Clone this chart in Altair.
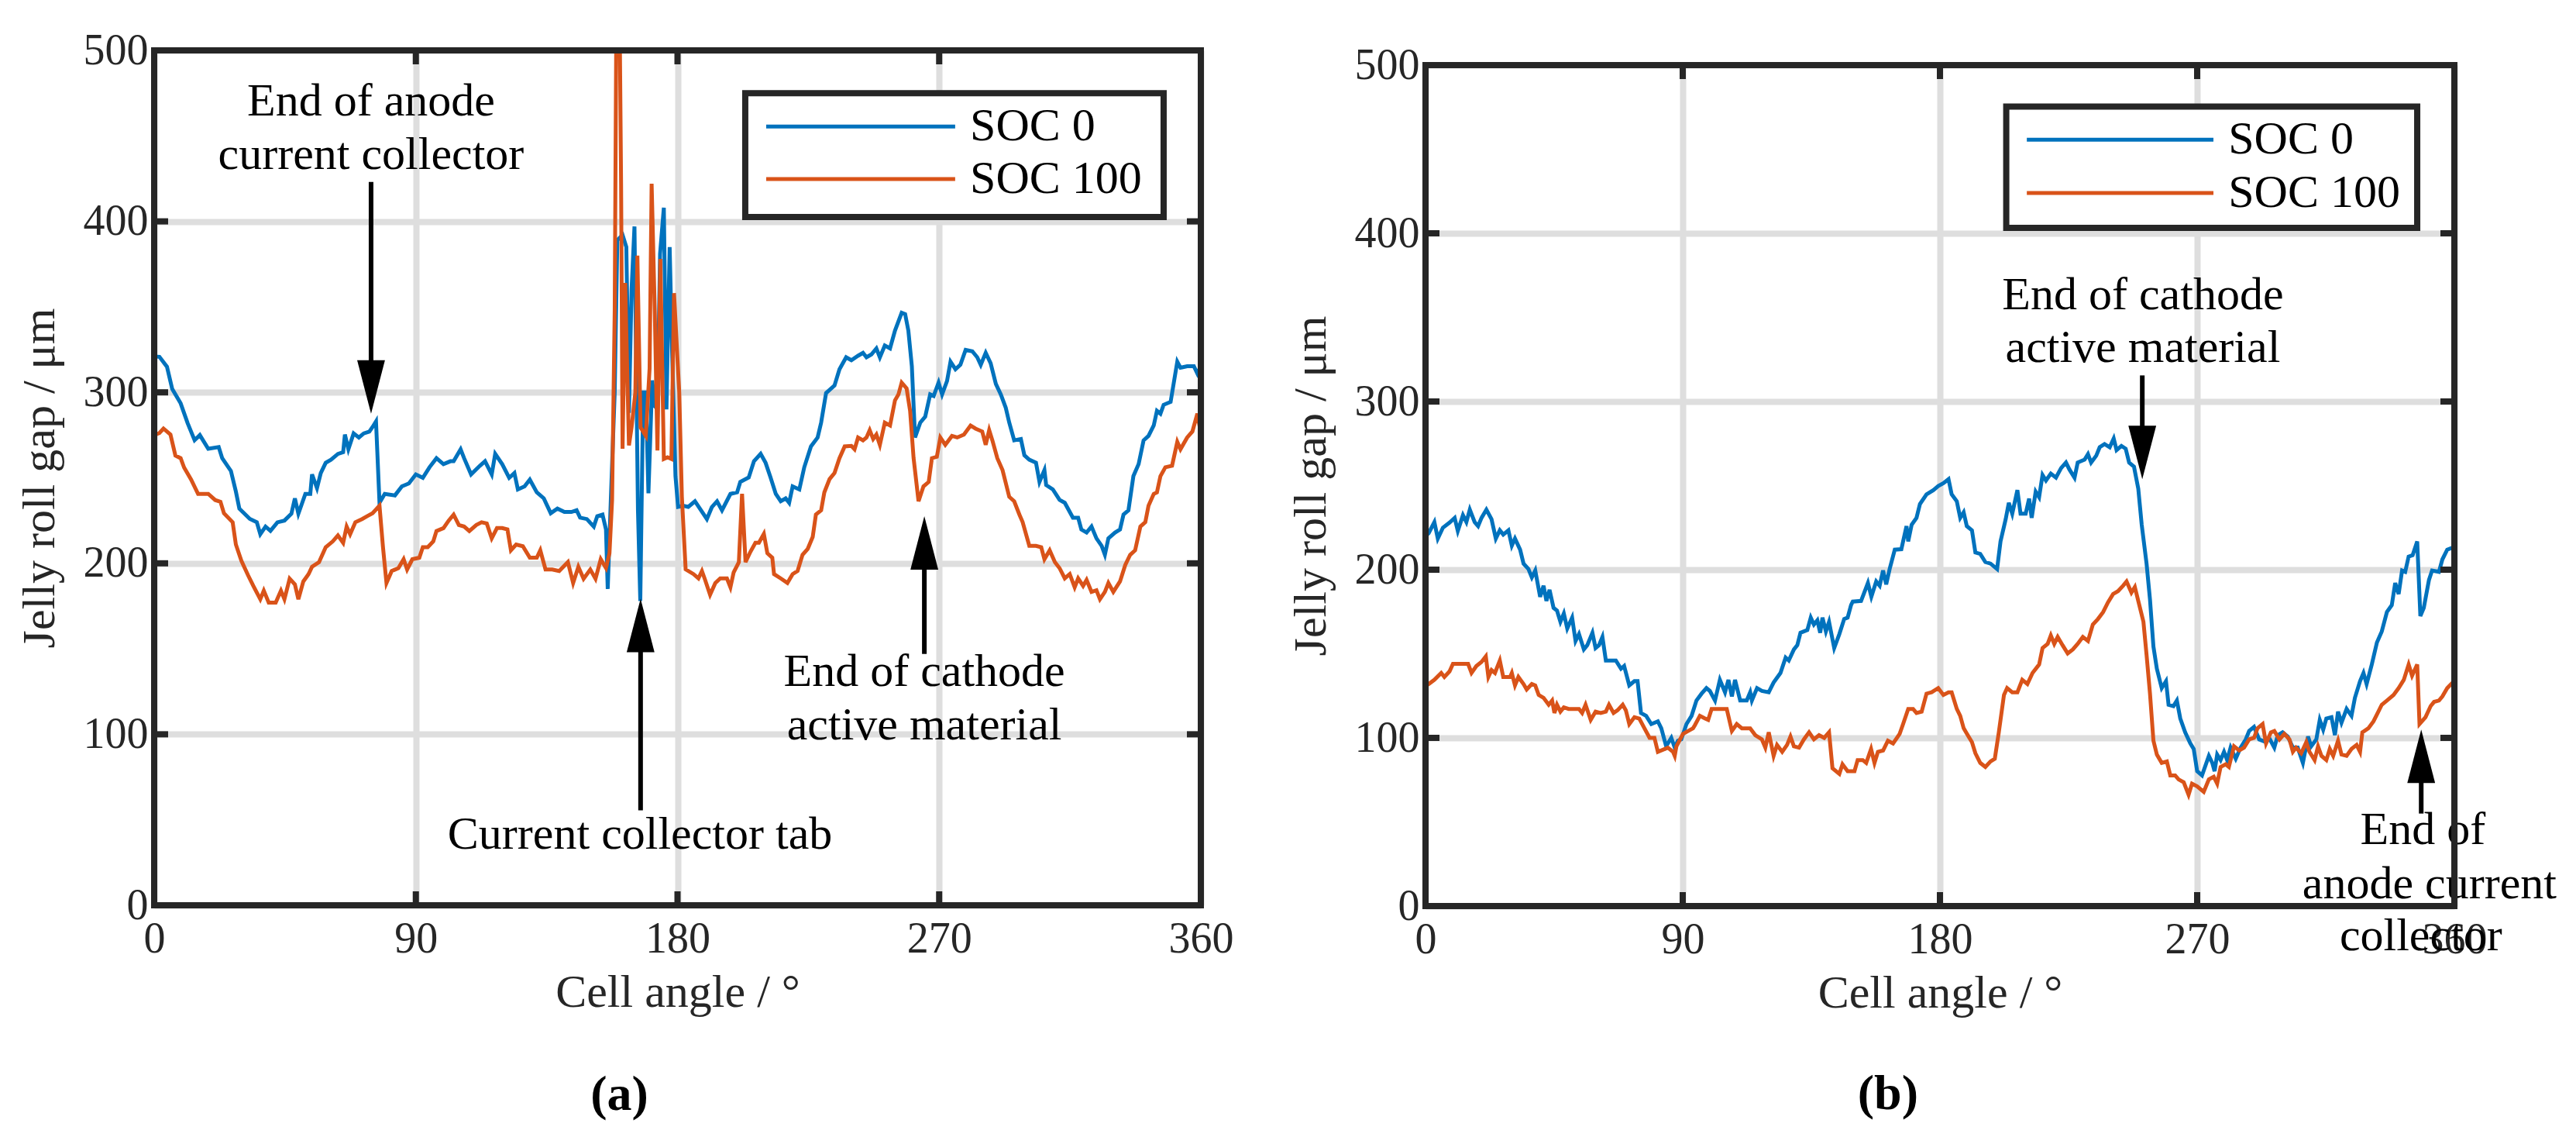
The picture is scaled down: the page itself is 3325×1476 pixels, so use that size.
import pandas as pd
import altair as alt

# (angle in degrees, jelly roll gap in um)
a_soc0 = [
    (0, 321), (1.8, 320.8), (4.4, 315), (6.2, 302), (9.1, 293.6), (11.5, 282), (13.9, 272),
    (15.7, 275), (18.6, 267), (22.2, 268), (23.4, 261.5), (26.4, 254), (28.1, 242), (29.3, 232),
    (32.9, 226), (35.3, 224), (36.5, 217), (38.3, 221.5), (40, 219), (42.4, 224), (44.8, 225),
    (47.2, 229), (48.4, 238), (49.6, 229), (52, 240.6), (53.7, 240.6), (54.3, 252), (56, 244),
    (57.3, 252.8), (59, 258.8), (60.8, 260.6), (63.2, 264), (65, 265), (65.6, 275.3), (66.8, 266.7),
    (68.6, 276), (70.4, 273.6), (72.1, 276), (74, 277), (75.1, 279.7), (76.3, 283), (77.5, 235.4),
    (79.3, 240.6), (82.8, 239.7), (85.2, 245), (87.6, 246.7), (90, 252), (92.4, 250), (94.7, 256.2),
    (97.1, 261.5), (99.5, 258), (101.9, 259.7), (103, 259.7), (105.4, 266.7), (106.6, 261.5),
    (109, 252), (112, 257), (113.8, 259.7), (116.1, 252), (117.3, 264), (119.7, 258), (122.1, 250),
    (123.9, 252.8), (125.1, 243.2), (127.4, 245), (129.2, 249), (131.6, 241.5), (134, 238),
    (136.4, 229.3), (138.7, 232), (141.1, 230), (143.5, 230), (145.3, 231), (146.5, 226.7),
    (148.8, 225.9), (151.2, 221.5), (152.4, 227.6), (154.2, 228.5), (155.4, 219.8), (156, 185),
    (157.1, 239), (158.4, 300), (159.3, 389), (161.1, 392), (162.4, 385), (163.3, 288), (164.2, 360),
    (165.2, 397), (166.4, 231), (167.2, 178), (168.2, 300), (169.1, 300), (170, 241), (171.3, 307),
    (172.2, 292), (173.1, 290), (174, 381), (175.3, 408), (176.2, 290), (177.3, 385), (178.2, 320),
    (179.3, 251), (180.2, 233), (182, 233.7), (183.7, 233), (186, 236.3), (190.1, 225.9),
    (191.8, 232.8), (193.6, 236.3), (195.3, 231), (198.2, 240.6), (200.5, 241.5), (201.6, 247.6),
    (204.5, 250.2), (206.3, 259.7), (208.6, 264), (210.3, 258.8), (212, 250.2), (213.8, 240.6),
    (215.5, 236.3), (217.2, 238), (218.4, 235.4), (219.6, 245), (221.9, 243.2), (223.6, 256.2),
    (225.9, 268.4), (228.2, 273.6), (229.4, 282.3), (231.1, 299.6), (234, 304), (235.7, 313.5),
    (238, 320.5), (239.8, 318.8), (242.1, 321.4), (243.8, 323.1), (245, 320.5), (246.7, 322.2),
    (248.4, 325.7), (249.6, 320.5), (251.3, 327.4), (253.1, 325.7), (254.8, 336.1), (257.1, 346.5),
    (258.3, 345.7), (259.4, 336.1), (260.6, 315.3), (261.7, 273.6), (263.5, 282.3), (265.2, 285.8),
    (266.9, 298.8), (268.1, 297.9), (269.8, 305.7), (271, 298.8), (272.7, 306.6), (273.9, 317.9),
    (275.6, 313.5), (277.3, 316.1), (279.1, 324.8), (281.4, 324), (283.1, 320.5), (284.3, 316.1),
    (286, 323.1), (287.7, 317), (289.5, 304.9), (291.2, 298.8), (292.9, 291), (294.1, 282.3),
    (295.8, 271.9), (298.1, 272.7), (299.3, 263.2), (301, 260.6), (303.3, 258.8), (304.5, 247.6),
    (306.2, 254.5), (306.8, 245.8), (309.1, 243.2), (311.4, 237.1), (313.2, 235.4), (316, 226.7),
    (317.8, 226.7), (318.9, 219.8), (320.7, 218), (322.4, 221.5), (324.1, 214.6), (325.9, 210.2),
    (327, 205), (328.2, 214.6), (330.5, 218), (332.2, 219.8), (333.4, 228.5), (335.1, 231),
    (336.8, 251), (338.6, 258), (340.3, 271.9), (342, 274.5), (343.8, 280.6), (344.9, 289.2),
    (346.1, 287.5), (347.2, 292.7), (349.6, 294.4), (351.9, 317.9), (353, 314.4), (355.3, 315.3),
    (357.6, 315.3), (358.8, 311), (360, 315.3),
]
a_soc100 = [
    (0, 275), (1.8, 276.2), (3.2, 278.8), (5.6, 275.3), (7.3, 263), (9.1, 261.5), (10.3, 256),
    (12.7, 249), (15.1, 240.6), (18.6, 240.6), (21, 237), (22.8, 236), (24, 229.3), (27, 224),
    (28.1, 211), (30, 201.5), (32.3, 193), (34.1, 186.8), (36.5, 179), (37.7, 184), (39.4, 177),
    (41.8, 177), (43.6, 184), (44.8, 179), (46.6, 191), (48.4, 187.7), (49.6, 179), (51.3, 189.4),
    (53.1, 193.7), (54.3, 198), (56.7, 200.7), (59, 209.4), (61.4, 212.8), (63.2, 216.3), (65, 212),
    (66.2, 221.5), (67.4, 217), (69.2, 224), (71.5, 225.9), (73.3, 227.6), (75.1, 229.3),
    (77.5, 233.7), (78.7, 209.4), (79.9, 188.5), (81.7, 195.5), (84, 197.2), (85.8, 202.4),
    (87, 196.4), (88.8, 202.4), (91.2, 203.3), (92.4, 209.4), (94.1, 209.4), (96, 212.8),
    (97.1, 218.9), (99.5, 220.6), (101.3, 225), (103, 228.5), (104.8, 222.4), (106.6, 221.5),
    (108.4, 218.9), (110.8, 222.4), (112.6, 224), (114.4, 223.3), (116.1, 214.6), (117.9, 220.6),
    (119.7, 220.6), (121.5, 219.8), (122.7, 207.6), (124.5, 211), (126.8, 210), (129.2, 203.3),
    (131.6, 203.3), (132.8, 207.6), (134.6, 196.4), (136.9, 196.4), (139.3, 195.5), (142.3, 200.7),
    (144.1, 188.5), (145.9, 198), (147.7, 191), (150, 196.4), (151.8, 191), (153.6, 202.4),
    (155.4, 197.2), (156.6, 205.9), (157.5, 237), (158.4, 348), (158.9, 500), (160.2, 500),
    (160.6, 421), (161.1, 267), (162, 364), (163.3, 269), (164.2, 279.5), (165.5, 300), (166.2, 380),
    (167.3, 279.5), (169.1, 274.5), (170.4, 314), (171.1, 422), (172.2, 346), (173.1, 266),
    (174.1, 378), (175.3, 261), (176.6, 262), (177.9, 261), (178.8, 358), (180.6, 300), (181.5, 239),
    (182.8, 196.5), (185.5, 193.7), (187.2, 191.2), (188.4, 195.5), (189.5, 190.3), (191.2, 181.6),
    (193, 188.5), (194.7, 191.2), (197, 191.2), (198.2, 186), (199.3, 194.6), (201.1, 200.7),
    (202.2, 240.6), (203.4, 200.7), (205.1, 206.8), (206.8, 212), (208, 212), (209.7, 217.2),
    (210.9, 205.9), (212.6, 203.3), (213.2, 193.7), (215.5, 191.2), (217.8, 188.5), (219.6, 193.7),
    (221.3, 195.5), (223, 205), (224.8, 208.5), (226.5, 215.4), (227.6, 228.5), (229.4, 231),
    (230.5, 241.5), (232.3, 249.3), (234, 252.8), (235.7, 261.5), (237.5, 268.4), (239.8, 268.7),
    (240.9, 266.7), (242.1, 273.6), (243.8, 271.9), (245, 273.6), (246.1, 277.9), (247.3, 272.7),
    (248.4, 275.3), (249.6, 269.3), (251.3, 282.3), (253.1, 280.6), (254.8, 295.3), (256, 298.8),
    (257.1, 305.7), (258.8, 302.3), (260, 289.2), (261.2, 261.5), (262.9, 236.3), (264.6, 245),
    (266.4, 247.6), (267.5, 261.5), (269.2, 262.3), (270.4, 273.6), (272.1, 269.3), (274.4, 274.5),
    (276.2, 273.6), (278.5, 275.3), (280.8, 280.6), (282.5, 278.8), (284.8, 277.1), (286, 269.3),
    (287.2, 277.9), (288.3, 271.9), (290, 261.5), (291.8, 254.5), (294.1, 238.9), (295.8, 236.3),
    (297.6, 228.5), (298.7, 224.1), (301, 210.2), (303.3, 210.2), (305.1, 209.4), (306.2, 202.4),
    (308, 207.6), (309.8, 200.7), (311.4, 197.2), (313.2, 191.2), (314.9, 193.7), (316.6, 186),
    (317.8, 191.2), (319.5, 186.8), (320.7, 190.3), (322.4, 183.3), (324.1, 184.2), (325.3, 179),
    (327, 183.3), (328.2, 188.5), (329.9, 183.3), (332.2, 189.4), (334, 199), (335.7, 205),
    (337.4, 207.6), (339.2, 221.5), (340.9, 224.1), (342, 233.7), (343.8, 240.6), (344.9, 241.5),
    (346.1, 251), (347.8, 256.2), (350.1, 257.1), (351.9, 271), (353, 266.7), (355.3, 273.6),
    (357.1, 277.1), (358.8, 287.5), (360, 276.2),
]
b_soc0 = [
    (0, 220), (1.1, 221.7), (3.1, 228.3), (4.3, 218.5), (6.1, 225), (8.4, 228), (10.2, 230.8),
    (11.3, 223), (13.1, 232.4), (14.3, 228.3), (15.5, 235.7), (17.2, 228.3), (18.4, 225.9),
    (19.6, 230.8), (21.3, 235.7), (23.1, 230), (24.6, 218.5), (26, 223.4), (27.2, 220.9), (29, 223.4),
    (30.2, 214.3), (31.3, 218.5), (33.1, 211.9), (34.3, 203.6), (36, 200.4), (37.2, 195.4),
    (38.4, 199.5), (40.1, 183.9), (41.3, 190.5), (42.3, 181.4), (43.4, 188), (44.8, 177.3),
    (46, 175.7), (47.2, 169), (48.4, 174), (49.6, 165), (51.3, 171.5), (52.5, 157.6), (53.7, 161.7),
    (55.4, 152.6), (56.6, 155.1), (58.4, 162.5), (59.5, 153.4), (60.7, 155.1), (61.9, 160),
    (63.1, 146), (66.6, 146), (68.4, 141.1), (69.5, 142.7), (71.3, 131.2), (73.1, 133.7),
    (74.2, 133.7), (75.4, 114.8), (77.2, 113.1), (79, 108.2), (81.3, 109.8), (82.5, 105.7),
    (84.2, 95), (86, 100), (87.2, 94.2), (88.3, 98.3), (89.5, 99.1), (91.3, 108.2), (93.1, 113.1),
    (94.8, 122.2), (96.6, 126.3), (98.3, 129.6), (99.5, 127.9), (101.3, 122.2), (103, 134.5),
    (104.8, 127.1), (106, 134.5), (107.2, 124.6), (108.3, 134.5), (110.1, 122.2), (112.4, 122.2),
    (113.6, 127.1), (114.2, 122.2), (116, 129.6), (117.7, 127.9), (120.1, 127.1), (121.8, 132.9),
    (124.2, 138.6), (126, 147.7), (127.1, 146), (128.9, 152.6), (130.1, 155.1), (131.2, 162.5),
    (133.6, 164.1), (134.8, 171.5), (135.9, 167.4), (137.1, 169.9), (138.1, 162.5), (138.9, 171.5),
    (140.1, 163.3), (141.2, 169), (143, 153.4), (144.8, 161.7), (146.5, 170.7), (147.7, 171.5),
    (148.9, 179), (149.5, 181), (152.4, 181.4), (154.8, 192.1), (156, 183.9), (157.7, 193),
    (158.9, 190.5), (160.1, 199.5), (161.2, 191.3), (162.4, 200.4), (164.2, 211.9), (166.5, 212.2),
    (168.3, 225.9), (168.9, 216.8), (170.1, 226.7), (171.8, 230.8), (173, 239), (175.3, 244.8),
    (177.7, 247.3), (179.4, 249.7), (181.2, 251.4), (183, 253.8), (184.1, 244.8), (185.9, 240.7),
    (187.1, 230.8), (188.3, 234.1), (189.4, 225.9), (191.2, 223.4), (192.4, 210.2), (194.1, 209.4),
    (195.9, 204.5), (197.7, 203.6), (200, 200.4), (201.2, 216.8), (203, 230), (204.1, 239.8),
    (205.3, 233.3), (207.1, 247.3), (208.2, 233.3), (210, 233.3), (211.2, 242.3), (212.1, 230.8),
    (213.5, 246.4), (214.7, 243.1), (215.9, 256.3), (217.1, 253), (218.8, 257.1), (220.6, 254.7),
    (222.4, 260.4), (224.1, 263.7), (225.3, 259.6), (227.1, 254.7), (228.2, 263.7), (230.6, 265.4),
    (231.8, 268.7), (232.9, 263.7), (234.7, 267.8), (235.9, 272.8), (237.6, 274.7), (239.4, 272.8),
    (240.8, 278), (241.8, 271.1), (243.5, 273.6), (245, 271.9), (246.2, 263.7), (247.9, 261.2),
    (249.4, 248.1), (250.6, 226.7), (252.3, 203.6), (253.5, 182.2), (254.7, 154.3), (255.9, 141.1),
    (257.6, 129.6), (259.1, 133.7), (260, 119.7), (261.7, 118.9), (262.9, 122.2), (264.1, 111.5),
    (265.8, 103.3), (267.6, 96.7), (268.8, 93.4), (270, 80.2), (271.7, 77.7), (274.1, 89.3),
    (275.3, 85.1), (276.1, 80.2), (277, 90.1), (278.2, 86.8), (279.4, 91.7), (280.5, 86.8),
    (281.7, 94.2), (283.5, 87.6), (285.2, 94.2), (287, 99.1), (288.2, 104.1), (289.9, 106.5),
    (291.7, 99.1), (294.1, 97.5), (295.2, 100), (297, 94.2), (298.2, 101.6), (299.9, 103.3),
    (301.7, 100.8), (303.5, 94.2), (305.2, 94.2), (307, 85.1), (308.8, 100.8), (309.9, 95),
    (311.7, 99.1), (312.9, 110.7), (314.1, 104.9), (315.2, 111.5), (317, 112.3), (318.2, 101.6),
    (319.3, 115.6), (320.5, 109), (322.3, 117.2), (324, 113.1), (325.2, 123.8), (327, 133.7),
    (328.2, 138.6), (329.3, 132), (331.1, 143.6), (332.9, 156.7), (334.6, 163.3), (336.4, 174.8),
    (338.1, 178.9), (339.3, 192.1), (340.5, 185.5), (341.7, 199.5), (342.8, 198.7), (344, 207.8),
    (345.4, 208.6), (347, 216.8), (348.1, 172.4), (349.3, 177.3), (351.1, 193.8), (352.2, 199.5),
    (354.6, 198.7), (355.8, 206.1), (357.5, 211.9), (359.9, 213.5),
]
b_soc100 = [
    (0, 131), (1.1, 132), (3.1, 134.5), (5.5, 138.6), (6.6, 136.2), (8.4, 139.5), (9.6, 144),
    (14.9, 144), (16.1, 138.6), (17.8, 142.7), (19.6, 145.2), (21.1, 148.5), (22, 136.2),
    (23.1, 140.3), (24.3, 138.6), (26, 146), (27.2, 136.2), (29.6, 136.2), (30.2, 138.6),
    (31.3, 131.2), (32.5, 136.2), (34.3, 132), (35.4, 128.8), (37.2, 132), (38.4, 131.2),
    (39.6, 125.5), (41.3, 123.8), (43.1, 119.7), (44.3, 122.2), (45.1, 114.8), (46, 119.7),
    (47.2, 115.6), (48.4, 118.1), (50.1, 117.2), (53.7, 117.2), (54.8, 114.8), (56, 119.7),
    (57.8, 110.7), (59.5, 115.6), (61.3, 114.8), (63.1, 115.6), (64.2, 119.7), (65.8, 114.8),
    (67.2, 116.4), (69, 119.7), (70.1, 116.4), (71.3, 108.2), (73.1, 112.3), (74.8, 111.5),
    (76.6, 105.7), (78.4, 100), (80.1, 100), (81.3, 91.7), (84.8, 94.2), (86.6, 91.7), (87.2, 89.3),
    (87.8, 95), (90.1, 102.4), (91.9, 104.1), (93.6, 105.7), (94.2, 107.4), (96, 113.1),
    (97.8, 111.5), (98.9, 110.7), (100.1, 117.2), (101.9, 117.2), (105.4, 117.2), (107.2, 104.1),
    (108.9, 108.2), (110.7, 105.7), (113.6, 105.7), (115.4, 101.6), (117.7, 99.1), (118.9, 94.2),
    (120.1, 103.3), (121.8, 89.3), (123, 95.8), (124.8, 91.7), (126.5, 95.8), (127.7, 100.8),
    (128.9, 95), (130.7, 94.2), (132.4, 99.1), (134.2, 103.3), (135.9, 99.1), (137.7, 101.6),
    (139.5, 100), (141.2, 103.3), (142.4, 81.9), (144.8, 78.6), (145.9, 84.3), (147.7, 80.2),
    (150.1, 80.2), (151.2, 86.8), (153, 86.8), (154.2, 85.1), (155.9, 93.4), (157.1, 85.1),
    (158.3, 91.7), (160.1, 92.5), (161.8, 98.3), (163.6, 96.7), (165.9, 102.4), (167.1, 108.2),
    (168.9, 117.2), (170.6, 117.2), (171.8, 114.8), (173.6, 115.6), (175.3, 126.3), (177.1, 127.1),
    (179.4, 129.6), (181.2, 125.5), (183, 127.1), (184.1, 127.1), (185.9, 117.2), (187.1, 113.1),
    (188.3, 105.7), (190, 100.8), (191.2, 97.5), (192.4, 90.9), (194.1, 85.1), (195.9, 82.7),
    (197.7, 86), (199.2, 87.6), (200.6, 103.3), (202.4, 125.5), (203.5, 129.6), (205.3, 127.1),
    (207.1, 127.1), (208.8, 134.5), (210.6, 132), (212.4, 138.6), (214.7, 143.6), (215.9, 153.4),
    (217.7, 155.9), (218.8, 160.9), (220, 155.9), (221.2, 160), (222.9, 155.1), (224.7, 150.2),
    (226.5, 152.6), (228.2, 155.9), (230, 160), (231.8, 157.6), (233.5, 167.4), (235.3, 170.7),
    (237.1, 174.8), (238.8, 180.6), (240.6, 185.5), (242.3, 187.2), (244.1, 190.5), (245.3, 193),
    (247, 186.4), (248.2, 189.7), (249.4, 181.4), (251.2, 169), (252.3, 149.3), (253.5, 126.3),
    (254.7, 98.3), (255.9, 90.1), (257.6, 85.1), (259.4, 86), (260.6, 77.7), (262.3, 77.7),
    (263.5, 75.3), (265.3, 73.6), (267, 66.2), (268.2, 72.8), (270, 71.2), (272.3, 67.9),
    (274.1, 75.3), (275.8, 76.9), (277, 72.8), (278.2, 82.7), (280, 84.3), (281.1, 82.7), (282.9, 95),
    (284.7, 92.5), (286.4, 94.2), (288.2, 99.1), (289.9, 100), (291.1, 105.7), (292.9, 108.2),
    (294.1, 96.7), (295.8, 103.3), (297, 104.1), (298.8, 99.1), (300.5, 102.4), (302.3, 99.1),
    (303.5, 91.7), (304.6, 94.2), (306.4, 90.9), (308.2, 97.5), (309.3, 91.7), (311.1, 86.8),
    (312.3, 95), (313.5, 89.3), (315.2, 86.8), (316.4, 93.4), (317.6, 89.3), (319.3, 98.3),
    (320.5, 90.1), (322.3, 89.3), (324, 93.4), (325.8, 95.8), (327, 91.7), (327.8, 103.3),
    (329.9, 105.7), (331.7, 109.8), (332.9, 113.9), (334.6, 119.7), (336.4, 122.2), (338.7, 125.5),
    (340.5, 129.6), (342.3, 134.5), (344, 143.6), (345.2, 137), (347, 143.6), (347.8, 108.2),
    (349.9, 112.3), (351.7, 118.9), (352.9, 121.4), (354.6, 122.2), (355.8, 124.6), (357.5, 129.6),
    (359.9, 133.7),
]

series = ["SOC 0", "SOC 100"]
series_colors = ["#0072BD", "#D95319"]
x_ticks = [0, 90, 180, 270, 360]
y_ticks = [0, 100, 200, 300, 400, 500]

# annotations: (text, angle, gap)
a_notes = [("End of anode", 74.6, 470), ("current collector", 74.6, 439),
           ("Current collector tab", 167.1, 41.3),
           ("End of cathode", 264.9, 136.5), ("active material", 264.9, 105.3)]
b_notes = [("End of cathode", 251, 363.3), ("active material", 251, 332),
           ("End of", 349, 45.1), ("anode current", 351.3, 13), ("collector", 348.3, -17.8)]
# arrows: (angle, tail gap, tip gap, direction)
a_arrows = [(74.6, 423, 287.5, "down"), (167.3, 55.5, 179.3, "up"), (264.9, 147, 227.6, "up")]
b_arrows = [(250.8, 315.5, 253.8, "down"), (348.4, 55, 104.9, "up")]
# legend box [x0, x1, y0, y1], key line [x0, x1], rows, label x
a_legend = dict(box=[203.3, 347.2, 402.5, 475], key=[210.5, 275.5], rows=[455.5, 424.7], text_x=280.6)
b_legend = dict(box=[203.2, 347, 403.2, 475.3], key=[210.4, 275.7], rows=[455.7, 424], text_x=280.9)

FONT = "Liberation Serif"
INK = "#262626"

x_axis = alt.Axis(values=x_ticks, title="Cell angle / °", format="d", labelFlush=False,
                  labelOverlap=False, ticks=False, domain=False, grid=True, gridColor="#DEDEDE",
                  gridWidth=8, labelFont=FONT, labelFontSize=56, labelColor=INK, labelPadding=16,
                  titleFont=FONT, titleFontSize=60, titleFontWeight="normal", titleColor=INK,
                  titlePadding=12)
y_axis = alt.Axis(values=y_ticks, title="Jelly roll gap / μm", format="d", labelOverlap=False,
                  ticks=False, domain=False, grid=True, gridColor="#DEDEDE", gridWidth=8,
                  labelFont=FONT, labelFontSize=56, labelColor=INK, labelPadding=8,
                  titleFont=FONT, titleFontSize=60, titleFontWeight="normal", titleColor=INK,
                  titlePadding=25)

DOWN_HEAD = "M-0.52,-2L0.52,-2L0,0Z"
UP_HEAD = "M-0.52,2L0.52,2L0,0Z"


def xq(field):
    return alt.X(field, type="quantitative", scale=alt.Scale(domain=[0, 360], nice=False, zero=False), axis=x_axis)


def yq(field):
    return alt.Y(field, type="quantitative", scale=alt.Scale(domain=[0, 500], nice=False, zero=False), axis=y_axis)


color = alt.Color("series:N", scale=alt.Scale(domain=series, range=series_colors), legend=None)


def panel(soc0, soc100, notes, arrows, legend, caption, cap_xy, w, h):
    df = pd.concat([
        pd.DataFrame(soc0, columns=["angle", "gap"]).assign(series=series[0]),
        pd.DataFrame(soc100, columns=["angle", "gap"]).assign(series=series[1]),
    ])
    lines = alt.Chart(df).mark_line(strokeWidth=5, clip=True).encode(
        x=xq("angle"), y=yq("gap"), color=color)

    head_len = 69 / (h / 500)
    arr = pd.DataFrame(arrows, columns=["x", "tail", "tip", "dir"])
    arr["base"] = [t + (0.9 * head_len if d == "down" else -0.9 * head_len)
                   for t, d in zip(arr["tip"], arr["dir"])]
    shafts = alt.Chart(arr).mark_rule(strokeWidth=6, color="black").encode(
        x=xq("x"), y=yq("tail"), y2="base")
    heads = [
        alt.Chart(arr[arr["dir"] == d]).mark_point(
            shape=shape, size=4761, filled=True, color="black", opacity=1, strokeWidth=0
        ).encode(x=xq("x"), y=yq("tip"))
        for d, shape in (("down", DOWN_HEAD), ("up", UP_HEAD))
    ]

    text = alt.Chart(pd.DataFrame(notes, columns=["t", "x", "y"])).mark_text(
        font=FONT, fontSize=60, color="black", align="center", baseline="middle"
    ).encode(x=xq("x"), y=yq("y"), text="t:N")

    bx = legend["box"]
    box = alt.Chart(pd.DataFrame({"x0": [bx[0]], "x1": [bx[1]], "y0": [bx[2]], "y1": [bx[3]]})).mark_rect(
        fill="white", stroke=INK, strokeWidth=8
    ).encode(x=xq("x0"), x2="x1", y=yq("y0"), y2="y1")
    keys_df = pd.DataFrame({"series": series, "x0": legend["key"][0], "x1": legend["key"][1],
                            "y": legend["rows"], "tx": legend["text_x"]})
    keys = alt.Chart(keys_df).mark_rule(strokeWidth=5).encode(
        x=xq("x0"), x2="x1", y=yq("y"), color=color)
    key_text = alt.Chart(keys_df).mark_text(
        font=FONT, fontSize=60, color="black", align="left", baseline="middle"
    ).encode(x=xq("tx"), y=yq("y"), text="series:N")

    xt = pd.DataFrame({"v": x_ticks[1:-1]})
    yt = pd.DataFrame({"v": y_ticks[1:-1]})
    tick = dict(strokeWidth=8, color=INK)
    ticks = [
        alt.Chart(xt).mark_rule(**tick).encode(x=xq("v"), y=alt.value(h), y2=alt.value(h - 18)),
        alt.Chart(xt).mark_rule(**tick).encode(x=xq("v"), y=alt.value(0), y2=alt.value(18)),
        alt.Chart(yt).mark_rule(**tick).encode(y=yq("v"), x=alt.value(0), x2=alt.value(18)),
        alt.Chart(yt).mark_rule(**tick).encode(y=yq("v"), x=alt.value(w), x2=alt.value(w - 18)),
    ]
    frame = alt.Chart(pd.DataFrame({"k": [0]})).mark_rect(
        fillOpacity=0, stroke=INK, strokeWidth=8
    ).encode(x=alt.value(0), x2=alt.value(w), y=alt.value(0), y2=alt.value(h))

    cap = alt.Chart(pd.DataFrame({"t": [caption], "x": [cap_xy[0]], "y": [cap_xy[1]]})).mark_text(
        font=FONT, fontSize=64, fontWeight="bold", color="black", align="center", baseline="middle"
    ).encode(x=xq("x"), y=yq("y"), text="t:N")

    return alt.layer(lines, shafts, *heads, text, box, keys, key_text, *ticks, frame, cap).properties(
        width=w, height=h)


panel_a = panel(a_soc0, a_soc100, a_notes, a_arrows, a_legend, "(a)", (160, -111), 1351, 1103)
panel_b = panel(b_soc0, b_soc100, b_notes, b_arrows, b_legend, "(b)", (161.8, -112), 1328, 1085)

spacer = alt.Chart(pd.DataFrame({"v": [0]})).mark_point(opacity=0).encode(
    x=alt.X("v:Q", axis=None), y=alt.Y("v:Q", axis=None)).properties(width=1328, height=1)

chart = alt.hconcat(
    panel_a,
    alt.vconcat(spacer, panel_b, spacing=18, bounds="flush"),
    spacing=290, bounds="flush",
).properties(
    padding={"left": 13, "top": 29, "right": 5, "bottom": 5}, background="white"
).configure_view(strokeWidth=0)

chart.save("out.html", embed_options={"renderer": "svg", "actions": False})
